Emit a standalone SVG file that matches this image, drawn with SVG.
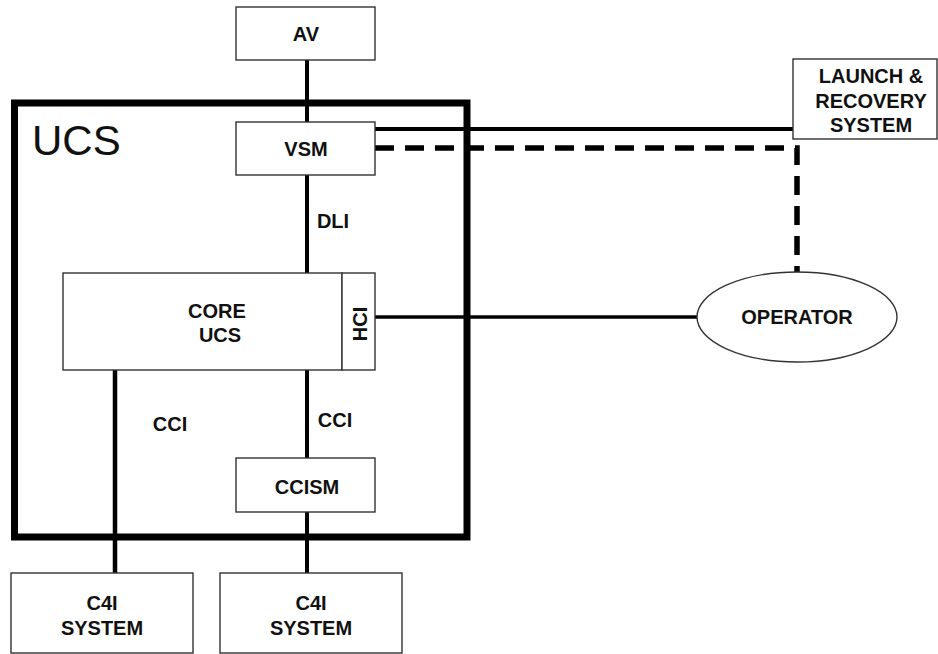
<svg xmlns="http://www.w3.org/2000/svg" width="938" height="654" viewBox="0 0 938 654">
<style>
.box{fill:#fff;stroke:#333;stroke-width:1.4}
.t{font-family:"Liberation Sans",Arial,sans-serif;font-weight:bold;font-size:20px;fill:#111;text-anchor:middle}
.ln{stroke:#000;fill:none}
</style>
<rect width="938" height="654" fill="#fff"/>
<g id="ucs-frame">
<rect x="14.5" y="103" width="452.5" height="434" fill="none" stroke="#000" stroke-width="7"/>
<text x="32" y="155" font-family="Liberation Sans,Arial,sans-serif" font-size="42" fill="#111">UCS</text>
</g>
<g id="connectors">
<line class="ln" x1="307" y1="60" x2="307" y2="122" stroke-width="4"/>
<line class="ln" x1="307" y1="175" x2="307" y2="273" stroke-width="4"/>
<line class="ln" x1="375" y1="129" x2="793" y2="129" stroke-width="4"/>
<polyline class="ln" points="375,148 797,148 797,272" stroke-width="5.5" stroke-dasharray="19 11"/>
<line class="ln" x1="375" y1="317" x2="697" y2="317" stroke-width="3.5"/>
<line class="ln" x1="115" y1="369" x2="115" y2="575" stroke-width="4.5"/>
<line class="ln" x1="307" y1="370" x2="307" y2="458" stroke-width="4"/>
<line class="ln" x1="307" y1="512" x2="307" y2="573" stroke-width="4"/>
<text class="t" x="333" y="228">DLI</text>
<text class="t" x="170" y="431">CCI</text>
<text class="t" x="335" y="427">CCI</text>
</g>
<g id="av">
<rect class="box" x="236" y="7" width="139" height="53"/>
<text class="t" x="306" y="41">AV</text>
</g>
<g id="vsm">
<rect class="box" x="236" y="122" width="139" height="53"/>
<text class="t" x="306" y="156">VSM</text>
</g>
<g id="core-ucs">
<rect class="box" x="63" y="273" width="279" height="97"/>
<text class="t" x="217" y="318">CORE</text>
<text class="t" x="220" y="342">UCS</text>
</g>
<g id="hci">
<rect class="box" x="342" y="273" width="33" height="97"/>
<text class="t" transform="translate(367 324) rotate(-90)" x="0" y="0">HCI</text>
</g>
<g id="ccism">
<rect class="box" x="236" y="458" width="139" height="54"/>
<text class="t" x="307" y="494">CCISM</text>
</g>
<g id="launch-recovery">
<rect class="box" x="793" y="59" width="144" height="80"/>
<text class="t" x="871" y="83">LAUNCH &amp;</text>
<text class="t" x="871" y="108">RECOVERY</text>
<text class="t" x="871" y="132">SYSTEM</text>
</g>
<g id="operator">
<ellipse cx="797" cy="317" rx="100" ry="45" fill="#fff" stroke="#333" stroke-width="1.4"/>
<text class="t" x="797" y="324">OPERATOR</text>
</g>
<g id="c4i-left">
<rect class="box" x="11" y="573" width="182" height="80"/>
<text class="t" x="102" y="610">C4I</text>
<text class="t" x="102" y="635">SYSTEM</text>
</g>
<g id="c4i-right">
<rect class="box" x="220" y="573" width="182" height="80"/>
<text class="t" x="311" y="610">C4I</text>
<text class="t" x="311" y="635">SYSTEM</text>
</g>
</svg>
